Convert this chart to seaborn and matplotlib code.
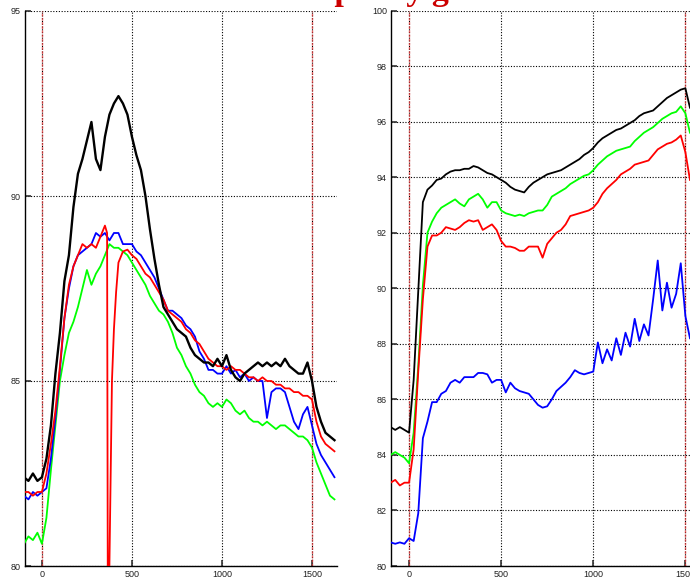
import numpy as np
import pandas as pd
import matplotlib
matplotlib.use("Agg")
import matplotlib.pyplot as plt
import seaborn as sns

# ---- left panel: time base (s) and probe readings ----
t_left = list(range(-100, 1650, 25))

left_black = [82.4, 82.3, 82.5, 82.3, 82.4, 82.9, 83.8, 85.2, 86.3, 87.7,
              88.4, 89.7, 90.6, 91.0, 91.5, 92.0, 91.0, 90.7, 91.6, 92.2,
              92.5, 92.7, 92.5, 92.2, 91.6, 91.1, 90.7, 90.0, 89.1, 88.3,
              87.6, 87.0, 86.8, 86.6, 86.4, 86.3, 86.2, 85.9, 85.7, 85.6,
              85.5, 85.5, 85.4, 85.6, 85.4, 85.7, 85.3, 85.1, 85.0, 85.2,
              85.3, 85.4, 85.5, 85.4, 85.5, 85.4, 85.5, 85.4, 85.6, 85.4,
              85.3, 85.2, 85.2, 85.5, 85.0, 84.3, 83.9, 83.6, 83.5, 83.4]

left_blue = [81.9, 81.8, 82.0, 81.9, 82.0, 82.1, 82.9, 84.0, 85.3, 86.7,
             87.5, 88.1, 88.4, 88.5, 88.6, 88.7, 89.0, 88.9, 89.0, 88.8,
             89.0, 89.0, 88.7, 88.7, 88.7, 88.5, 88.4, 88.2, 88.0, 87.8,
             87.5, 87.2, 86.9, 86.9, 86.8, 86.7, 86.5, 86.4, 86.2, 85.8,
             85.6, 85.3, 85.3, 85.2, 85.2, 85.4, 85.2, 85.3, 85.1, 85.2,
             85.0, 85.1, 85.0, 85.0, 84.0, 84.7, 84.8, 84.8, 84.7, 84.3,
             83.9, 83.7, 84.1, 84.3, 83.8, 83.3, 83.0, 82.8, 82.6, 82.4]

left_green = [80.6, 80.8, 80.7, 80.9, 80.6, 81.3, 82.6, 83.8, 85.0, 85.7,
              86.3, 86.6, 87.0, 87.5, 88.0, 87.6, 87.9, 88.1, 88.4, 88.7,
              88.6, 88.6, 88.5, 88.4, 88.2, 88.0, 87.8, 87.6, 87.3, 87.1,
              86.9, 86.8, 86.6, 86.3, 85.9, 85.7, 85.4, 85.2, 84.9, 84.7,
              84.6, 84.4, 84.3, 84.4, 84.3, 84.5, 84.4, 84.2, 84.1, 84.2,
              84.0, 83.9, 83.9, 83.8, 83.9, 83.8, 83.7, 83.8, 83.8, 83.7,
              83.6, 83.5, 83.5, 83.4, 83.2, 82.8, 82.5, 82.2, 81.9, 81.8]

# the red probe drops out briefly around t = 365 s, so it has its own time base
left_red_t = (list(range(-100, 375, 25)) + [362, 366, 372, 389, 400, 412]
              + list(range(425, 1650, 25)))
left_red = [82.0, 82.0, 81.9, 82.0, 82.0, 82.5, 83.3, 84.2, 85.4, 86.7,
            87.6, 88.1, 88.4, 88.7, 88.6, 88.7, 88.6, 88.9, 89.2,
            89.0, 79.0, 79.0, 85.0, 86.4, 87.4,
            88.2, 88.5, 88.55, 88.4, 88.3, 88.1, 87.9, 87.8, 87.6, 87.4,
            87.2, 86.9, 86.8, 86.7, 86.6, 86.4, 86.3, 86.1, 86.0, 85.8,
            85.6, 85.5, 85.4, 85.4, 85.3, 85.4, 85.3, 85.3, 85.2, 85.1,
            85.1, 85.0, 85.1, 85.0, 85.0, 84.9, 84.9, 84.8, 84.8, 84.7,
            84.7, 84.6, 84.6, 84.5, 83.9, 83.5, 83.3, 83.2, 83.1]

# ---- right panel ----
t_right = list(range(-100, 1550, 25))

right_black = [85.0, 84.9, 85.0, 84.9, 84.8, 86.7, 89.9, 93.1, 93.55, 93.7,
               93.9, 93.95, 94.1, 94.2, 94.25, 94.25, 94.3, 94.3, 94.4, 94.35,
               94.25, 94.15, 94.1, 94.0, 93.9, 93.8, 93.65, 93.55, 93.5, 93.45,
               93.65, 93.8, 93.9, 94.0, 94.1, 94.15, 94.2, 94.25, 94.35, 94.45,
               94.55, 94.65, 94.8, 94.9, 95.05, 95.25, 95.4, 95.5, 95.6, 95.7,
               95.75, 95.85, 95.95, 96.05, 96.2, 96.3, 96.35, 96.4, 96.55, 96.7,
               96.85, 96.95, 97.05, 97.15, 97.2, 96.5]

right_green = [84.0, 84.1, 84.0, 83.9, 83.7, 84.8, 87.2, 90.1, 92.0, 92.4,
               92.7, 92.9, 93.0, 93.1, 93.2, 93.05, 92.95, 93.2, 93.3, 93.4,
               93.2, 92.9, 93.1, 93.1, 92.8, 92.7, 92.65, 92.6, 92.65, 92.6,
               92.7, 92.75, 92.8, 92.8, 93.0, 93.3, 93.4, 93.5, 93.6, 93.75,
               93.85, 93.95, 94.05, 94.1, 94.25, 94.45, 94.6, 94.75, 94.85, 94.95,
               95.0, 95.05, 95.1, 95.3, 95.45, 95.6, 95.7, 95.8, 95.95, 96.1,
               96.2, 96.3, 96.35, 96.55, 96.3, 95.6]

right_red = [83.0, 83.1, 82.9, 83.0, 83.0, 84.2, 87.0, 89.6, 91.5, 91.9,
             91.9, 92.0, 92.2, 92.15, 92.1, 92.2, 92.35, 92.45, 92.4, 92.45,
             92.1, 92.2, 92.3, 92.1, 91.7, 91.5, 91.5, 91.45, 91.35, 91.35,
             91.5, 91.5, 91.5, 91.1, 91.6, 91.8, 92.0, 92.1, 92.3, 92.6,
             92.65, 92.7, 92.75, 92.8, 92.9, 93.1, 93.4, 93.6, 93.75, 93.9,
             94.1, 94.2, 94.3, 94.45, 94.5, 94.55, 94.6, 94.8, 95.0, 95.1,
             95.2, 95.25, 95.35, 95.5, 94.9, 93.9]

right_blue = [80.85, 80.8, 80.85, 80.8, 81.0, 80.9, 81.9, 84.6, 85.2, 85.9,
              85.9, 86.2, 86.3, 86.6, 86.7, 86.6, 86.8, 86.8, 86.8, 86.95,
              86.95, 86.9, 86.6, 86.7, 86.7, 86.25, 86.6, 86.4, 86.3, 86.25,
              86.2, 86.0, 85.8, 85.7, 85.75, 86.0, 86.3, 86.45, 86.6, 86.8,
              87.05, 86.95, 86.9, 86.95, 87.0, 88.05, 87.3, 87.8, 87.4, 88.2,
              87.6, 88.4, 87.9, 88.9, 88.1, 88.7, 88.3, 89.6, 91.0, 89.2,
              90.2, 89.3, 89.8, 90.9, 89.0, 88.2]

left_yticks = [80, 85, 90, 95]
right_yticks = [80, 82, 84, 86, 88, 90, 92, 94, 96, 98, 100]
xticks = [0, 500, 1000, 1500]
event_times = [0, 1500]
title_text = "Top 5 by grade"

probe_colors = {"green": "#00ff00", "blue": "#0000ff", "red": "#ff0000", "black": "#000000"}
probe_order = ["green", "blue", "red", "black"]


def long_frame(pairs):
    parts = [pd.DataFrame({"time": t, "temp": v, "probe": name}) for name, t, v in pairs]
    return pd.concat(parts, ignore_index=True)


left_df = long_frame([("green", t_left, left_green), ("blue", t_left, left_blue),
                      ("red", left_red_t, left_red), ("black", t_left, left_black)])
right_df = long_frame([("green", t_right, right_green), ("blue", t_right, right_blue),
                       ("red", t_right, right_red), ("black", t_right, right_black)])

plt.rcParams["font.family"] = ["Liberation Sans", "DejaVu Sans"]

fig = plt.figure(figsize=(6.9, 5.85), dpi=100)
ax_l = fig.add_axes([25 / 690, 19 / 585, 312 / 690, 555 / 585])
ax_r = fig.add_axes([391 / 690, 19 / 585, 322 / 690, 555.5 / 585])


def style_axis(ax, ylim, yticks, xlim):
    ax.set_xlim(*xlim)
    ax.set_ylim(*ylim)
    ax.set_xticks(xticks)
    ax.set_yticks(yticks)
    ax.set_axisbelow(True)
    ax.grid(True, linestyle=(0, (1, 1.5)), color="black", linewidth=0.8)
    for side in ("top", "right"):
        ax.spines[side].set_visible(False)
    for side in ("left", "bottom"):
        ax.spines[side].set_color("black")
        ax.spines[side].set_linewidth(1.0)
    ax.tick_params(direction="in", length=4, width=1.2, labelsize=6.5,
                   labelcolor="#222222", color="#333333", pad=3)
    ax.set_xlabel("")
    ax.set_ylabel("")
    for t in event_times:
        ax.axvline(t, color="#e03030", linestyle=(0, (2, 1)), linewidth=1.0,
                   alpha=0.75, zorder=1.5)


for ax, df, lw_black in ((ax_l, left_df, 1.7), (ax_r, right_df, 1.3)):
    sns.lineplot(data=df, x="time", y="temp", hue="probe", hue_order=probe_order,
                 palette=probe_colors, estimator=None, sort=False, legend=False,
                 linewidth=1.3, ax=ax, zorder=3)
    ax.lines[-1].set_linewidth(lw_black)

style_axis(ax_l, (80, 95), left_yticks, (-94, 1639))
style_axis(ax_r, (80, 100), right_yticks, (-98, 1650))

# figure title sits at the top edge
fig.text(298 / 690, 1.0, title_text, color="#cc0000", fontsize=24.5, fontweight="bold",
         family="Liberation Serif", ha="left", va="baseline")

fig.savefig("out.png", dpi=100)
